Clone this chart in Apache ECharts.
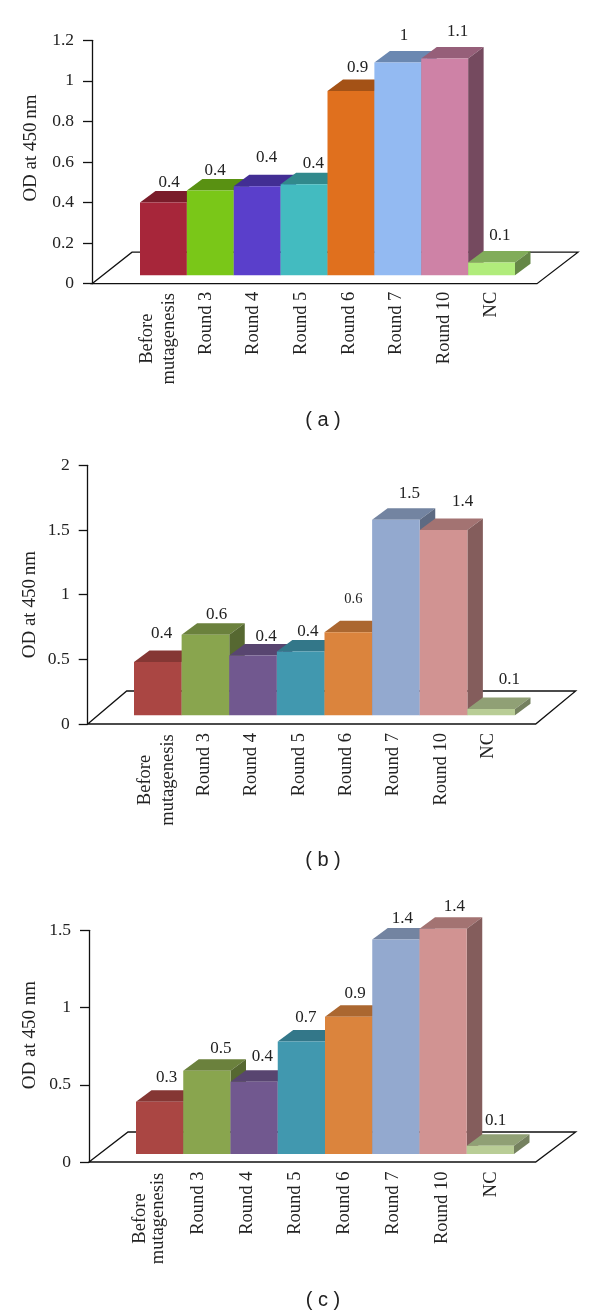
<!DOCTYPE html>
<html><head><meta charset="utf-8">
<style>html,body{margin:0;padding:0;background:#fff}#c{width:600px;height:1316px}</style>
<script src="https://cdn.jsdelivr.net/npm/echarts@6/dist/echarts.min.js"></script>
</head><body><div id="c"></div>
<script>
// ---- data ----
const categories = ['Before\nmutagenesis','Round 3','Round 4','Round 5','Round 6','Round 7','Round 10','NC'];
const valuesA = [0.40,0.46,0.48,0.49,0.95,1.09,1.11,0.105];
const valuesB = [0.48,0.69,0.53,0.56,0.71,1.58,1.50,0.116];
const valuesC = [0.39,0.59,0.52,0.78,0.94,1.44,1.51,0.106];
const printedA = ['0.4','0.4','0.4','0.4','0.9','1','1.1','0.1'];
const printedB = ['0.4','0.6','0.4','0.4','0.6','1.5','1.4','0.1'];
const printedC = ['0.3','0.5','0.4','0.7','0.9','1.4','1.4','0.1'];
const yMaxes = [1.2, 2, 1.5];
const yIntervals = [0.2, 0.5, 0.5];
const yTitles = ['OD at 450\u2009nm','OD at 450\u2009nm','OD at 450 nm'];
const captions = ['( a )','( b )','( c )'];
const fills1 = ['#A7263A','#7AC718','#5A3FCB','#43BBC0','#E0701E','#93BAF2','#CE82A6','#B1EC7B'];
const fills2 = ['#AA4643','#89A54E','#71588F','#4198AF','#DB843D','#93A9CF','#D19392','#B9CD96'];

// ---- layout (pixels) ----
const layouts = [
 {vals:valuesA, printed:printedA, fills:fills1, top:40.3, bottom:283.7, axisX:92, barL:140, barR:515, floorR:537, backDx:40, backDy:-31.5, lift:8.4,
  lblL:134.6, lblW:380.8, lblMargin:8, lineH:22, nameGap:51, namePad:[0,0,0,28], capY:420,
  ldx:[5.6,4.7,9.5,9.2,6.7,6.1,12.9,8.3], ldy:[-20.4,-20,-28.7,-20.7,-23.3,-26.6,-27,-27], topK:.73, sideK:.57},
 {vals:valuesB, printed:printedB, fills:fills2, top:465.3, bottom:724, axisX:87.7, barL:134, barR:515, floorR:535.7, backDx:39, backDy:-33, lift:8.7,
  lblL:133.3, lblW:378.4, lblMargin:9, lineH:23, nameGap:48, namePad:[0,20,0,0], capY:860,
  ldx:[3.9,11.3,13,7.3,5,13.4,19.1,18.1], ldy:[-28.7,-20.3,-19.3,-20.3,-33,-26,-28.3,-29], topK:.78, sideK:.63},
 {vals:valuesC, printed:printedC, fills:fills2, top:930.3, bottom:1162, axisX:89, barL:136, barR:514, floorR:535.7, backDx:39, backDy:-30, lift:8,
  lblL:124.8, lblW:390.4, lblMargin:9.5, lineH:18, nameGap:49, namePad:[0,0,0,22], capY:1300,
  ldx:[7.1,14.1,8.2,4.6,6.4,6.4,11.2,5.3], ldy:[-24.4,-22.7,-25,-24.4,-23,-21,-22,-25], topK:.78, sideK:.63}
];
const depthX = 15.5, depthY = 11.5, W = 600;
const serif = '"Liberation Serif","Times New Roman",serif';

function shade(hex,k){
  const n=parseInt(hex.slice(1),16);
  const f=v=>Math.round(v*k);
  return 'rgb('+f(n>>16&255)+','+f(n>>8&255)+','+f(n&255)+')';
}
const grid=[],xAxis=[],yAxis=[],series=[],title=[];
layouts.forEach((p,i)=>{
  const g=grid.length;
  grid.push({left:p.barL,width:p.barR-p.barL,top:p.top,height:p.bottom-p.top});
  grid.push({left:p.lblL,width:p.lblW,top:p.top,height:p.bottom-p.top});
  xAxis.push({type:'category',gridIndex:g,data:categories,show:false});
  xAxis.push({type:'category',gridIndex:g+1,data:categories,position:'bottom',
    axisLine:{show:false},axisTick:{show:false},
    axisLabel:{interval:0,rotate:90,margin:p.lblMargin,color:'#222',fontFamily:serif,fontSize:18.5,lineHeight:p.lineH,
      formatter:v=>v.indexOf('\n')>=0?v.split('\n').map(s=>'{c|'+s+'}').join('\n'):v,
      rich:{c:{width:94,align:'center',fontFamily:serif,fontSize:18.5,lineHeight:p.lineH,color:'#222'}}}});
  yAxis.push({type:'value',gridIndex:g,min:0,max:yMaxes[i],interval:yIntervals[i],position:'left',offset:p.barL-p.axisX,
    name:yTitles[i],nameLocation:'middle',nameGap:p.nameGap,nameMoveOverlap:false,
    nameTextStyle:{fontFamily:serif,fontSize:19,color:'#222',padding:p.namePad},
    splitLine:{show:false},
    axisLine:{show:true,lineStyle:{color:'#111',width:1.3}},
    axisTick:{show:true,length:9,lineStyle:{color:'#111',width:1.3}},
    axisLabel:{margin:18,color:'#222',fontFamily:serif,fontSize:17.5,formatter:v=>String(v)}});
  yAxis.push({type:'value',gridIndex:g+1,min:0,max:yMaxes[i],show:false});

  // floor
  series.push({type:'custom',coordinateSystem:'cartesian2d',xAxisIndex:g,yAxisIndex:g,z:1,silent:true,
    data:[[0,0]],encode:{x:0,y:1},
    renderItem:(params,api)=>{
      const y0=api.coord([0,0])[1];
      return {type:'polygon',shape:{points:[[p.axisX,y0],[p.axisX+p.backDx,y0+p.backDy],[p.floorR+p.backDx+1,y0+p.backDy],[p.floorR,y0]]},
        style:{fill:'#fff',stroke:'#111',lineWidth:1.3}};
    }});
  // 3D columns, drawn left to right
  series.push({type:'custom',coordinateSystem:'cartesian2d',xAxisIndex:g,yAxisIndex:g,z:2,silent:true,
    data:p.vals.map((v,k)=>[k,v]),encode:{x:0,y:1},
    renderItem:(params,api)=>{
      const k=api.value(0),c=api.coord([k,api.value(1)]),w=api.size([1,0])[0];
      const y0=api.coord([k,0])[1]-p.lift,x0=c[0]-w/2,x1=c[0]+w/2,yt=c[1],col=p.fills[k];
      return {type:'group',children:[
        {type:'polygon',shape:{points:[[x0,yt],[x0+depthX,yt-depthY],[x1+depthX,yt-depthY],[x1,yt]]},style:{fill:shade(col,p.topK)}},
        {type:'polygon',shape:{points:[[x1,yt],[x1+depthX,yt-depthY],[x1+depthX,y0-depthY],[x1,y0]]},style:{fill:shade(col,p.sideK)}},
        {type:'rect',shape:{x:x0,y:yt,width:w,height:y0-yt},style:{fill:col}}
      ]};
    }});
  // printed value labels
  series.push({type:'custom',coordinateSystem:'cartesian2d',xAxisIndex:g,yAxisIndex:g,z:3,silent:true,
    data:p.vals.map((v,k)=>[k,v]),encode:{x:0,y:1},
    renderItem:(params,api)=>{
      const k=api.value(0),c=api.coord([k,api.value(1)]);
      const small=(i===1&&k===4);
      return {type:'text',style:{text:p.printed[k],x:c[0]+p.ldx[k],y:c[1]+p.ldy[k],align:'center',verticalAlign:'middle',
        fill:'#222',font:(small?14.5:17)+'px '+serif}};
    }});
  title.push({text:captions[i],left:323,top:p.capY,textAlign:'center',textVerticalAlign:'middle',padding:0,
    textStyle:{fontFamily:'"Liberation Sans",Arial,sans-serif',fontWeight:'normal',fontSize:20,color:'#222'}});
});
const chart=echarts.init(document.getElementById('c'),null,{renderer:'canvas',width:W,height:1316});
chart.setOption({animation:false,backgroundColor:'#fff',title,grid,xAxis,yAxis,series,tooltip:{show:false}});
</script></body></html>
